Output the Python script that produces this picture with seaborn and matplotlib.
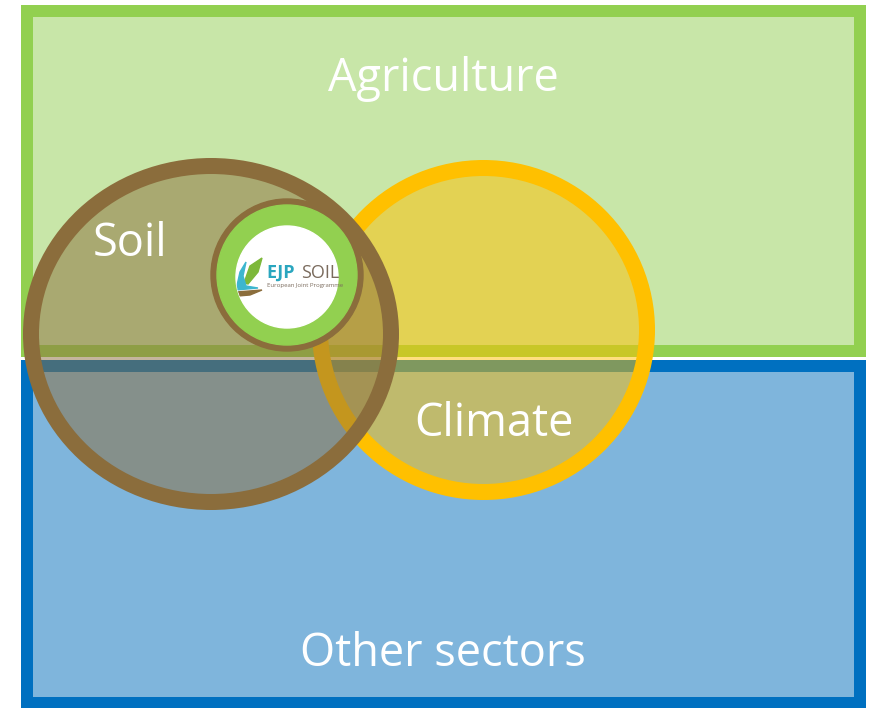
import matplotlib.pyplot as plt
import seaborn as sns
from matplotlib.patches import Rectangle, Ellipse, Circle, Polygon

# labels of the diagram
sectors = ["Agriculture", "Other sectors"]
topics = ["Soil", "Climate"]
logo_words = ["EJP", "SOIL", "European Joint Programme"]

sns.set_theme(style="white")
plt.rcParams['font.family'] = ['Open Sans', 'DejaVu Sans']

W, H = 877, 708
DPI = 100


def px(v):
    # pixel width -> points
    return v * 72 / DPI


fig = plt.figure(figsize=(W / DPI, H / DPI), dpi=DPI)
ax = fig.add_axes([0, 0, 1, 1])
ax.set_xlim(0, W)
ax.set_ylim(H, 0)
ax.axis('off')

green, green_light = '#92D050', '#C8E6A8'
blue, blue_light = '#0070C0', '#7FB5DC'
brown = '#8B6D3C'
yellow = '#FFC000'

# sector boxes
ax.add_patch(Rectangle((27, 11), 833, 340, facecolor=green_light,
                       edgecolor=green, lw=px(12), zorder=1))
ax.add_patch(Rectangle((27, 366), 833, 337, facecolor=blue_light,
                       edgecolor=blue, lw=px(12), zorder=1))

# climate circle (under soil)
ax.add_patch(Ellipse((483.5, 330), 327, 324, facecolor=yellow, alpha=0.5,
                     edgecolor='none', zorder=2))
ax.add_patch(Ellipse((483.5, 330), 327, 324, facecolor='none',
                     edgecolor=yellow, lw=px(16), zorder=3))

# soil circle
ax.add_patch(Ellipse((211, 334), 360, 336, facecolor=brown, alpha=0.5,
                     edgecolor='none', zorder=4))
ax.add_patch(Ellipse((211, 334), 360, 336, facecolor='none',
                     edgecolor=brown, lw=px(16), zorder=5))

# logo badge
cx, cy = 287, 275
ax.add_patch(Circle((cx, cy), 76, color=brown, zorder=6))
ax.add_patch(Circle((cx, cy), 70, color=green, zorder=7))
white = Circle((cx, cy + 2), 51, color='white', zorder=8)
ax.add_patch(white)

# leaf icon
leaf = Polygon([(244, 283), (250, 266), (262, 258), (258, 272), (248, 284)],
               closed=True, color='#7DB83A', zorder=9)
swoosh = Polygon([(236, 290), (240, 272), (246, 262), (243, 276), (246, 286), (258, 288)],
                 closed=True, color='#3DB6CF', zorder=9)
soilbase = Polygon([(236, 292), (262, 290), (250, 295), (238, 296)],
                   closed=True, color='#8B6D3C', zorder=9)
for p in (leaf, swoosh, soilbase):
    ax.add_patch(p)
    p.set_clip_path(white)

t1 = ax.text(266, 273, logo_words[0], color='#2AA6BF', fontsize=13,
             fontweight='bold', ha='left', va='center', zorder=10)
t2 = ax.text(301, 273, logo_words[1], color='#7A6B5D', fontsize=13,
             ha='left', va='center', zorder=10)
t3 = ax.text(267, 286, logo_words[2], color='#7A6B5D', fontsize=4.3,
             ha='left', va='center', zorder=10)
for t in (t1, t2, t3):
    t.set_clip_path(white)

# region labels
fs = 32.5
ax.text(443, 79, sectors[0], color='white', fontsize=fs, ha='center', va='center', zorder=11)
ax.text(443, 654, sectors[1], color='white', fontsize=fs, ha='center', va='center', zorder=11)
ax.text(130, 244, topics[0], color='white', fontsize=fs, ha='center', va='center', zorder=11)
ax.text(494, 424, topics[1], color='white', fontsize=fs, ha='center', va='center', zorder=11)

fig.savefig('out.png', dpi=DPI)
